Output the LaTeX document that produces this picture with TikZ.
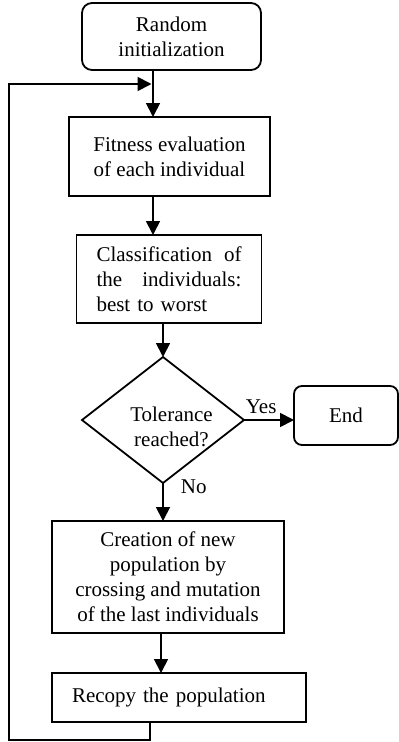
\documentclass[tikz,border=0pt]{standalone}
\usepackage{fontspec}
\setmainfont{Liberation Serif}
\usetikzlibrary{positioning,arrows.meta,shapes.geometric}

\begin{document}
\begin{tikzpicture}[x=1pt,y=1pt,
  txt/.style={font=\fontsize{21}{25}\selectfont},
  term/.style={txt,draw,rounded corners=10pt,line width=1.8pt,outer sep=0pt,align=center},
  proc/.style={txt,draw,line width=1.8pt,outer sep=0pt,align=center},
  dec/.style={draw,diamond,line width=1.8pt,inner sep=0pt,outer sep=0pt,
    minimum width=162pt,minimum height=126pt},
  lab/.style={txt,inner sep=1pt},
  arr/.style={-{Triangle[length=14pt,width=14pt]},line width=1.8pt}]
\useasboundingbox (0,0) rectangle (399,-742);
\node[term,minimum width=179pt,minimum height=67pt] (init) at (171.5,-36.5) {Random\\initialization};
\node[proc,below=47pt of init,xshift=-2pt,minimum width=201pt,minimum height=79pt] (fit) {Fitness evaluation\\of each individual};
\node[proc,below=39pt of fit,xshift=-0.5pt,align=left,text width=145pt,inner xsep=20pt,
  minimum height=88pt] (class) {Classification\hfill of\\the\hfill individuals:\\best to worst};
\node[dec,below=34pt of class,xshift=-6pt] (dec) {};
\node[txt,align=center,inner sep=0pt] (dectxt) at ([xshift=8.5pt,yshift=-7pt]dec.center) {Tolerance\\reached?};
\node[term,right=50pt of dec,yshift=4.5pt,rounded corners=8pt,minimum width=104pt,minimum height=59pt] (end) {End};
\node[proc,below=38pt of dec,xshift=5pt,minimum width=232pt,minimum height=112pt] (creat)
  {Creation of new\\population by\\crossing and mutation\\of the last individuals};
\node[proc,below=40pt of creat,xshift=11pt,align=left,text width=214pt,inner xsep=20pt,
  minimum height=49pt] (recopy) {Recopy the population};
% connectors
\draw[arr] ([xshift=-18.5pt]init.south) coordinate (a1) -- (a1 |- fit.north);
\draw[arr] ([xshift=-16.5pt]fit.south) coordinate (a2) -- (a2 |- class.north);
\draw[arr] (class.south -| dec.north) -- (dec.north);
\draw[arr] (dec.east) -- node[lab,pos=0,anchor=base west,yshift=7pt]{Yes} (dec.east -| end.west);
\draw[arr] (dec.south) -- node[lab,pos=0,anchor=base west,xshift=16pt,yshift=-10pt]{No} (dec.south |- creat.north);
\draw[arr] ([xshift=-7pt]creat.south) coordinate (a5) -- (a5 |- recopy.north);
% loop back
\coordinate (merge) at ([xshift=-1.5pt,yshift=-14pt]a1);
\draw[arr] ([xshift=-29pt]recopy.south) -- ++(0,-18) -- ++(-141,0) |- (merge);
\end{tikzpicture}
\end{document}
